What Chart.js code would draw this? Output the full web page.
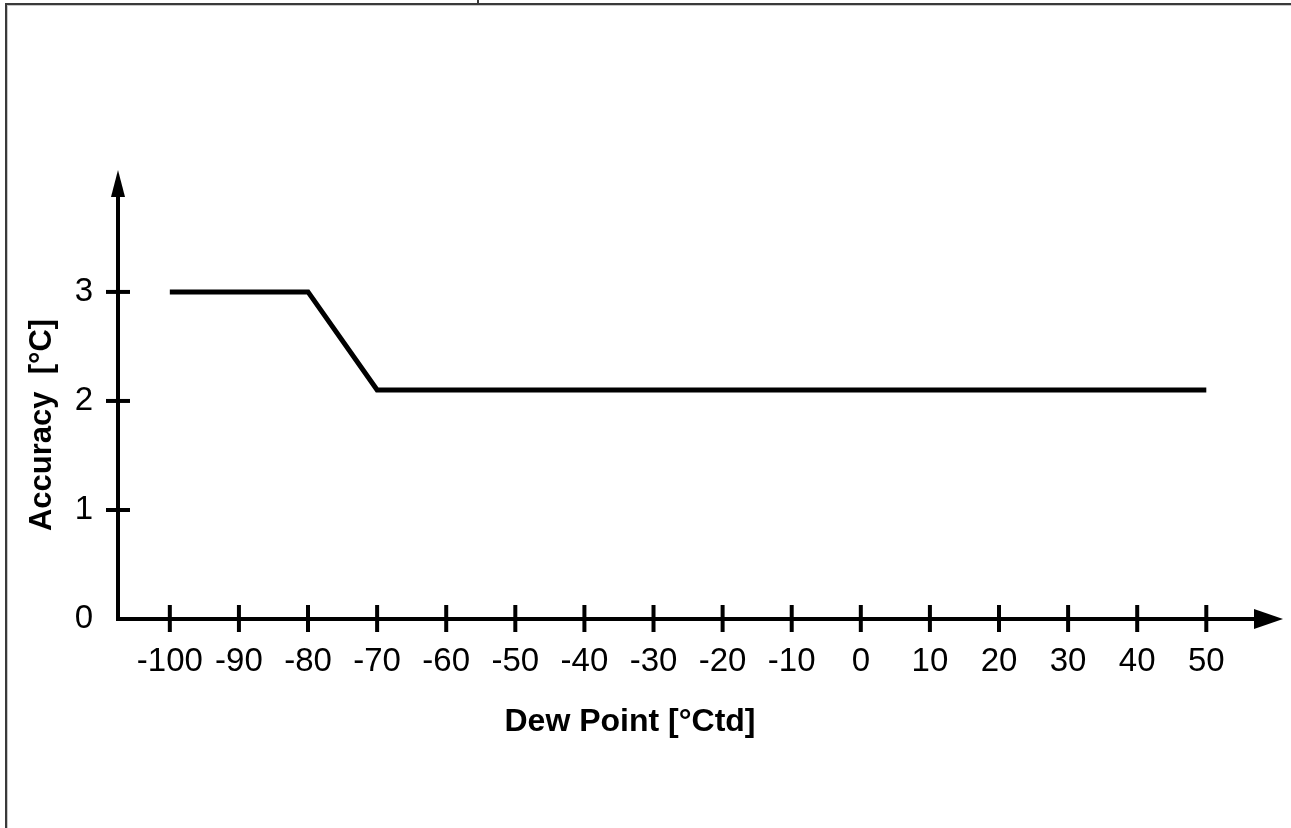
<!DOCTYPE html>
<html lang="en">
<head>
<meta charset="UTF-8">
<title>Accuracy vs Dew Point</title>
<script src="https://cdn.jsdelivr.net/npm/chart.js"></script>
<style>
    html, body { margin: 0; padding: 0; background: #fff; }
    #frame { position: absolute; left: 5px; top: 3px; right: 0; bottom: 0;
             border-left: 2px solid #3a3a3a; border-top: 2px solid #3a3a3a;
             box-shadow: inset 1px 1px 0 #c8c8c8; }
    #cell { position: absolute; left: 477px; top: 0; width: 2px; height: 4px; background: #3a3a3a; }
    #wrap { position: absolute; left: 0; top: 0; width: 1291px; height: 828px; }
</style>
</head>
<body>
<div id="frame"></div>
<div id="cell"></div>
<div id="wrap"><canvas id="myChart"></canvas></div>
<script>
    // curve
    const dewPoint = [-100, -80, -70, 50];
    const accuracy = [3, 3, 2.1, 2.1];

    const xTickValues = [-100, -90, -80, -70, -60, -50, -40, -30, -20, -10, 0, 10, 20, 30, 40, 50];
    const yTickValues = [0, 1, 2, 3];

    const xTitle = 'Dew Point [°Ctd]';
    const yTitle = 'Accuracy  [°C]';

    // axes with cross ticks and arrow heads, plus axis titles
    const arrowAxes = {
        id: 'arrowAxes',
        afterDatasetsDraw(chart) {
            const ctx = chart.ctx;
            const xs = chart.scales.x, ys = chart.scales.y;
            const { left, right, top, bottom } = chart.chartArea;
            ctx.save();
            ctx.strokeStyle = '#000';
            ctx.fillStyle = '#000';
            ctx.lineWidth = 4;
            ctx.lineCap = 'butt';

            ctx.beginPath();
            ctx.moveTo(left, top + 20);
            ctx.lineTo(left, bottom);
            ctx.lineTo(right - 20, bottom);
            ctx.stroke();

            // arrow heads
            ctx.beginPath();
            ctx.moveTo(left, top - 2);
            ctx.lineTo(left - 7, top + 25);
            ctx.lineTo(left + 7, top + 25);
            ctx.closePath();
            ctx.fill();
            ctx.beginPath();
            ctx.moveTo(right, bottom);
            ctx.lineTo(right - 29, bottom - 10);
            ctx.lineTo(right - 29, bottom + 10);
            ctx.closePath();
            ctx.fill();

            xs.ticks.forEach(t => {
                const px = xs.getPixelForValue(t.value);
                ctx.beginPath();
                ctx.moveTo(px, bottom - 14);
                ctx.lineTo(px, bottom + 13);
                ctx.stroke();
            });
            ys.ticks.forEach(t => {
                if (t.value === 0) return;
                const py = ys.getPixelForValue(t.value);
                ctx.beginPath();
                ctx.moveTo(left - 12, py);
                ctx.lineTo(left + 12, py);
                ctx.stroke();
            });

            ctx.font = 'bold 32px "Liberation Sans", Arial, sans-serif';
            ctx.textAlign = 'center';
            ctx.textBaseline = 'middle';
            ctx.fillText(xTitle, 630, 722);
            ctx.font = 'bold 31px "Liberation Sans", Arial, sans-serif';
            ctx.translate(42, 425);
            ctx.rotate(-Math.PI / 2);
            ctx.fillText(yTitle, 0, 0);
            ctx.restore();
        }
    };

    const data = {
        datasets: [{
            label: 'Accuracy',
            data: dewPoint.map((x, i) => ({ x: x, y: accuracy[i] })),
            borderColor: '#000',
            backgroundColor: '#000',
            borderWidth: 5,
            pointRadius: 0,
            fill: false,
            tension: 0
        }]
    };

    const tickFont = { family: '"Liberation Sans", Arial, sans-serif', size: 33 };

    const config = {
        type: 'line',
        data: data,
        options: {
            responsive: true,
            maintainAspectRatio: false,
            animation: false,
            layout: { padding: { top: 172, right: 8, left: 0, bottom: 0 } },
            plugins: { legend: { display: false }, tooltip: { enabled: false } },
            scales: {
                x: {
                    type: 'linear',
                    min: -107.5,
                    max: 61.1,
                    afterBuildTicks: s => { s.ticks = xTickValues.map(v => ({ value: v })); },
                    afterFit: s => { s.height = 209; },
                    grid: { display: false },
                    border: { display: false },
                    ticks: { color: '#000', font: tickFont, padding: 15, maxRotation: 0, autoSkip: false }
                },
                y: {
                    type: 'linear',
                    min: 0,
                    max: 4.1,
                    afterBuildTicks: s => { s.ticks = yTickValues.map(v => ({ value: v })); },
                    afterFit: s => { s.width = 118; },
                    grid: { display: false },
                    border: { display: false },
                    ticks: { color: '#000', font: tickFont, padding: 17 }
                }
            }
        },
        plugins: [arrowAxes]
    };

    const myChart = new Chart(document.getElementById('myChart'), config);
</script>
</body>
</html>
